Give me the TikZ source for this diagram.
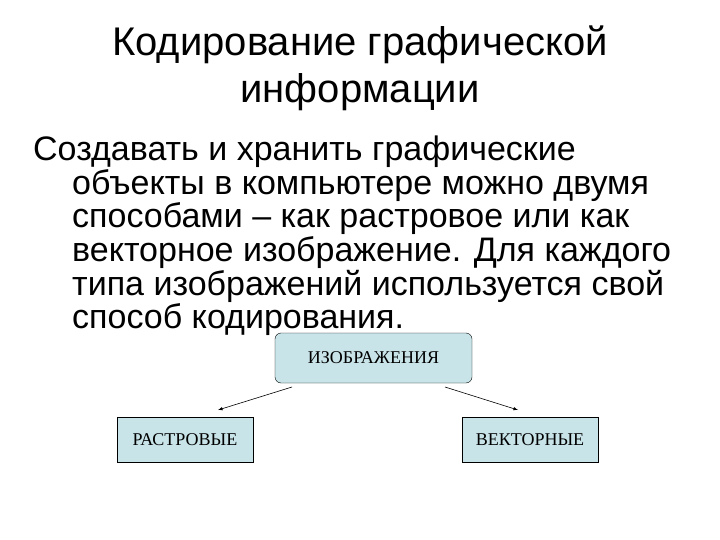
\documentclass[tikz,border=0pt]{standalone}
\usepackage{fontspec}
\setmainfont{Liberation Sans}
\newfontfamily\serifcyr{Liberation Serif}
\definecolor{boxfill}{RGB}{200,228,232}
\begin{document}
\begin{tikzpicture}[x=1pt,y=-1pt,
  ttl/.style={font=\fontsize{40}{46}\selectfont,inner sep=0pt},
  body/.style={font=\fontsize{34}{38}\selectfont,inner sep=0pt,anchor=base west},
  box/.style={draw,fill=boxfill,font=\serifcyr\fontsize{18}{20}\selectfont,inner sep=0pt},
  arr/.style={-latex,semithick}]
\useasboundingbox (0,0) rectangle (720,540);
\node[ttl] (t1) at (360,45) {Кодирование графической};
\node[ttl] (t2) at (360,92) {информации};
\node[body] (l1) at (33,161) {Создавать и хранить графические};
\node[body] (l2) at (72,194.5) {объекты в компьютере можно двумя};
\node[body] (l3) at (72,228) {способами -- как растровое или как};
\node[body] (l4) at (72,261.5) {векторное изображение. Для каждого};
\node[body] (l5) at (72,295) {типа изображений используется свой};
\node[body] (l6) at (72,328.5) {способ кодирования.};
\node[box,rounded corners=6pt,minimum width=197,minimum height=50] (top) at (373.5,358) {ИЗОБРАЖЕНИЯ};
\node[box,minimum width=136,minimum height=45] (left) at (185,439.5) {РАСТРОВЫЕ};
\node[box,minimum width=136,minimum height=45] (right) at (530,439.5) {ВЕКТОРНЫЕ};
\coordinate (a1) at (292,387);
\coordinate (a2) at (218,410);
\coordinate (b1) at (445,387);
\coordinate (b2) at (518,410);
\draw[arr] (a1) -- (a2);
\draw[arr] (b1) -- (b2);
\end{tikzpicture}
\end{document}
